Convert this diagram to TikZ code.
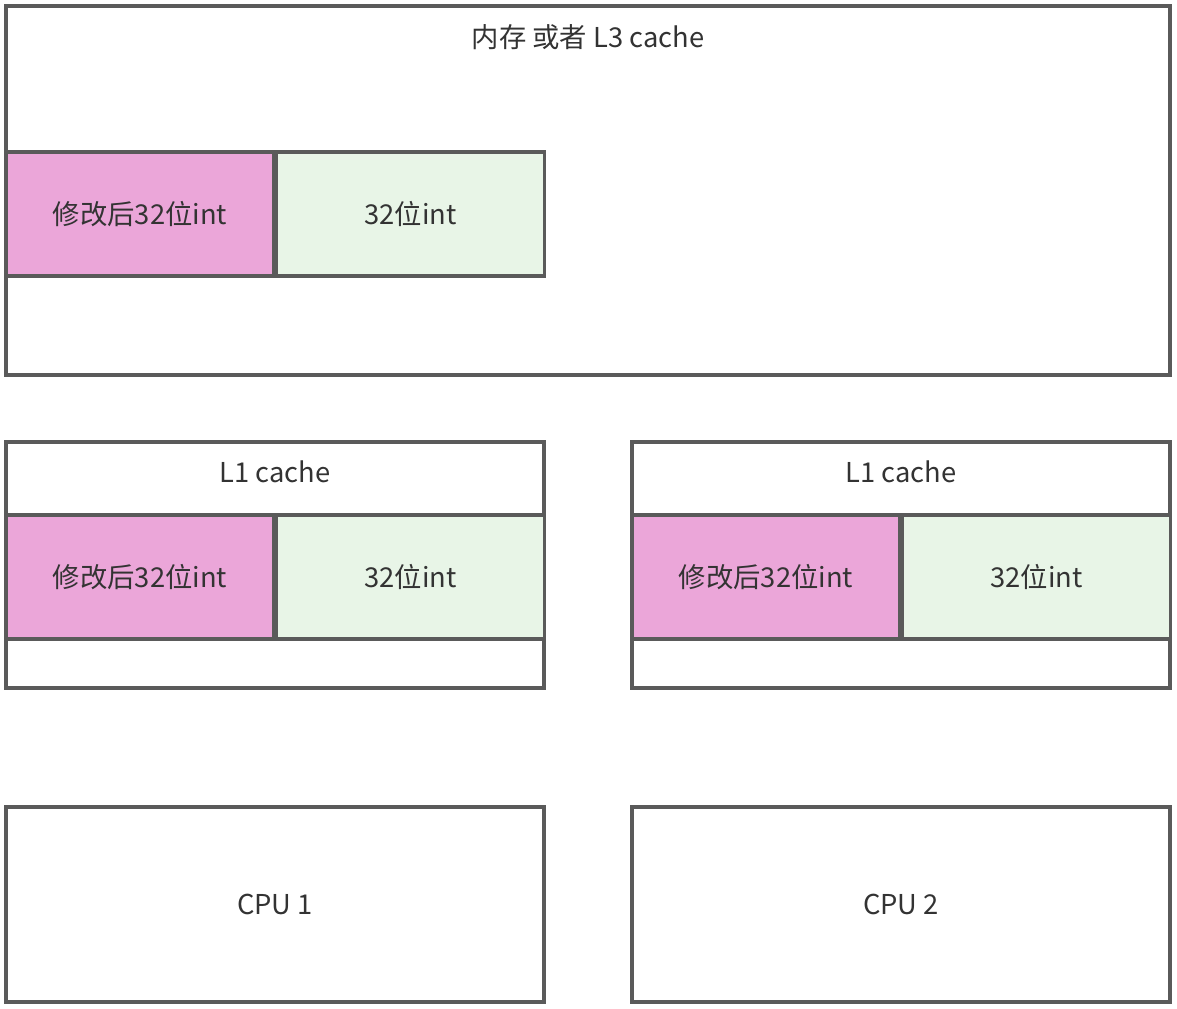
\documentclass[tikz,border=0pt]{standalone}
\usepackage{fontspec}
\setmainfont{Noto Sans CJK SC}
\usepackage{tikz}
\usetikzlibrary{positioning}
\definecolor{edge}{RGB}{90,90,90}
\definecolor{ink}{RGB}{51,51,51}
\definecolor{modified}{RGB}{235,166,217}
\definecolor{plain}{RGB}{232,245,231}
\tikzset{
    frame/.style={rectangle, draw=edge, line width=2.4pt, fill=white, inner sep=0pt},
    cell/.style={rectangle, draw=edge, line width=2.4pt, minimum width=200.6pt, minimum height=93pt, inner sep=0pt, text=ink, font=\fontsize{20.5}{24}\selectfont},
    dirty/.style={cell, fill=modified},
    clean/.style={cell, fill=plain},
    title/.style={text=ink, font=\fontsize{20.5}{24}\selectfont, inner sep=0pt}
}

\begin{document}
\begin{tikzpicture}[x=0.75pt, y=-0.75pt]
    \useasboundingbox (0,0) rectangle (1177,1008);

    % Memory / L3
    \node[frame, minimum width=873pt, minimum height=276.75pt] (mem) at (588,190.5) {};
    \node[title] (memtitle) at (588,37) {内存 或者 L3 cache};
    \node[dirty] (memdirty) at (140,214) {修改后32位int};
    \node[clean] (memclean) at (410.5,214) {32位int};

    % L1 caches
    \node[frame, minimum width=403.5pt, minimum height=184.5pt] (lone) at (275,565) {};
    \node[title] (lonetitle) at (275,472) {L1 cache};
    \node[dirty] (lonedirty) at (140,577) {修改后32位int};
    \node[clean] (loneclean) at (410.5,577) {32位int};

    \node[frame, minimum width=403.5pt, minimum height=184.5pt] (ltwo) at (901,565) {};
    \node[title] (ltwotitle) at (901,472) {L1 cache};
    \node[dirty] (ltwodirty) at (766,577) {修改后32位int};
    \node[clean] (ltwoclean) at (1036.5,577) {32位int};

    % CPUs
    \node[frame, minimum width=403.5pt, minimum height=146.25pt, text=ink, font=\fontsize{20.5}{24}\selectfont] (cpuone) at (275,904.5) {CPU 1};
    \node[frame, minimum width=403.5pt, minimum height=146.25pt, text=ink, font=\fontsize{20.5}{24}\selectfont] (cputwo) at (901,904.5) {CPU 2};
\end{tikzpicture}
\end{document}
